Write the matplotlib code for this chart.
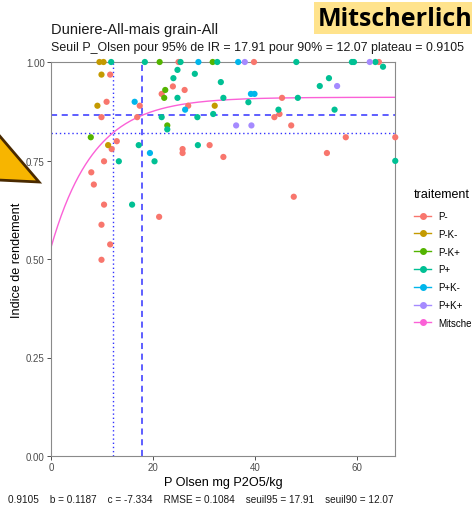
import numpy as np
import matplotlib
matplotlib.use("Agg")
import matplotlib.pyplot as plt
from matplotlib.lines import Line2D
from matplotlib.patches import Polygon, Rectangle

plt.rcParams["font.family"] = ["Liberation Sans", "DejaVu Sans"]

# ── Data ───────────────────────────────────────────────────
x_pm  = [11.6, 10.9, 17.4, 9.9, 16.9, 12.9, 11.9, 10.4, 7.9, 8.4, 10.4, 21.2, 9.9, 11.6, 9.9,
         25.0, 39.8, 23.9, 26.2, 21.7, 26.9, 44.8, 43.8, 31.1, 25.8, 25.8, 33.8,
         64.3, 45.3, 47.1, 57.8, 67.5, 54.1, 47.6]
y_pm  = [0.968, 0.899, 0.889, 0.860, 0.860, 0.799, 0.779, 0.748, 0.720, 0.689, 0.638, 0.607, 0.587, 0.537, 0.498,
         1.0, 1.0, 0.938, 0.929, 0.919, 0.889, 0.868, 0.860, 0.789, 0.779, 0.769, 0.759,
         1.0, 0.909, 0.839, 0.809, 0.809, 0.769, 0.658]
x_pkm = [9.5, 10.3, 9.9, 9.1, 11.2, 32.1]
y_pkm = [1.0, 1.0, 0.968, 0.889, 0.789, 0.889]
x_pkp = [21.3, 7.8, 22.4, 22.2, 22.8, 31.7]
y_pkp = [1.0, 0.809, 0.929, 0.909, 0.839, 1.0]
x_pp  = [11.8, 18.4, 21.7, 17.2, 13.3, 20.3, 15.9, 25.4, 32.6, 24.8, 24.0, 28.2, 24.8, 33.3, 33.8,
         38.7, 44.6, 31.8, 28.7, 22.8, 28.8, 48.1, 59.0, 59.4, 63.6, 65.1, 54.5, 52.7, 48.4, 55.6, 67.5]
y_pp  = [1.0, 1.0, 0.860, 0.789, 0.748, 0.748, 0.638, 1.0, 1.0, 0.980, 0.959, 0.970, 0.909, 0.949, 0.909,
         0.898, 0.879, 0.868, 0.860, 0.829, 0.789, 1.0, 1.0, 1.0, 1.0, 0.988, 0.959, 0.939, 0.909, 0.879, 0.749]
x_ppkm = [16.4, 19.4, 28.9, 36.7, 39.2, 39.9, 26.3]
y_ppkm = [0.899, 0.769, 1.0, 1.0, 0.919, 0.919, 0.879]
x_ppkp = [38.0, 36.3, 39.3, 62.5, 56.1]
y_ppkp = [1.0, 0.839, 0.839, 1.0, 0.939]

treatments = ["P-", "P-K-", "P-K+", "P+", "P+K-", "P+K+"]
colors = ["#F8766D", "#C49A00", "#53B400", "#00C094", "#00B6EB", "#A58AFF"]
CURVE_COLOR = "#FB61D7"

# Mitscherlich fit parameters (shown on the chart)
a_fit, b_fit, c_fit = 0.9105, 0.1187, -7.334
seuil95, seuil90 = 17.91, 12.07

# ── Figure ─────────────────────────────────────────────────
W, H = 472, 510
fig = plt.figure(figsize=(W / 100, H / 100), dpi=100)
def fx(px): return px / W
def fy(py): return 1 - py / H

ax = fig.add_axes([fx(51), fy(457), fx(395) - fx(51), fy(63) - fy(457)])
ax.set_xlim(0, 67.45); ax.set_ylim(0, 1)

xs = np.linspace(0, 67.45, 300)
ax.plot(xs, a_fit * (1 - np.exp(-b_fit * (xs - c_fit))), color=CURVE_COLOR, lw=1.0, zorder=2)

blue = "#3333FF"
ax.axvline(seuil95, color=blue, ls=(0, (4, 3)), lw=1.1, zorder=1)
ax.axhline(0.95 * a_fit, color=blue, ls=(0, (4, 3)), lw=1.1, zorder=1)
ax.axvline(seuil90, color=blue, ls=(0, (1, 2)), lw=1.0, zorder=1)
ax.axhline(0.90 * a_fit, color=blue, ls=(0, (1, 2)), lw=1.0, zorder=1)

series = [(x_pm, y_pm), (x_pkm, y_pkm), (x_pkp, y_pkp), (x_pp, y_pp), (x_ppkm, y_ppkm), (x_ppkp, y_ppkp)]
for (xv, yv), col in zip(series, colors):
    ax.scatter(xv, yv, s=20, color=col, edgecolors="none", zorder=3, clip_on=False)

ax.set_xticks([0, 20, 40, 60])
ax.set_yticks([0, 0.25, 0.5, 0.75, 1.0])
ax.set_yticklabels(["0.00", "0.25", "0.50", "0.75", "1.00"])
ax.tick_params(labelsize=7, colors="#333333", labelcolor="#4D4D4D", length=3, width=0.6, pad=1.5)
for s in ax.spines.values():
    s.set_color("#8A8A8A"); s.set_linewidth(0.8)
ax.set_xlabel("P Olsen mg P2O5/kg", fontsize=9.1, labelpad=3)
ax.set_ylabel("Indice de rendement", fontsize=9.1, labelpad=2)

# ── Titles ─────────────────────────────────────────────────
fig.text(fx(51), fy(30), "Duniere-All-mais grain-All", fontsize=10.5, va="center", ha="left", color="#1A1A1A")
fig.text(fx(51), fy(48), "Seuil P_Olsen pour 95% de IR = 17.91 pour 90% = 12.07 plateau = 0.9105",
         fontsize=8.9, va="center", ha="left", color="#1A1A1A")
fig.text(fx(8), fy(500), "0.9105    b = 0.1187    c = -7.334    RMSE = 0.1084    seuil95 = 17.91    seuil90 = 12.07",
         fontsize=7.2, va="center", ha="left", color="#1A1A1A")

# ── Legend ─────────────────────────────────────────────────
handles = [Line2D([], [], color=c, marker="o", ms=4, lw=1.0) for c in colors]
handles.append(Line2D([], [], color=CURVE_COLOR, marker="o", ms=4, lw=1.0))
labels = treatments + ["Mitscherlich"]
leg = fig.legend(handles, labels, title="traitement", loc="upper left",
                 bbox_to_anchor=(fx(411), fy(186)), frameon=False, fontsize=7.0,
                 title_fontsize=9.0, handlelength=1.8, handletextpad=0.7, labelspacing=0.8,
                 borderaxespad=0, borderpad=0.3)
leg._legend_box.align = "left"
leg._legend_box.sep = 8

# ── Annotations (label box + arrow) ────────────────────────
fig.patches.append(Rectangle((fx(314), fy(35)), fx(472) - fx(314), fy(3) - fy(35),
                             transform=fig.transFigure, facecolor="#FFE38C", edgecolor="none", zorder=0))
fig.text(fx(318), fy(19), "Mitscherlich", fontsize=18, fontweight="bold", family="Open Sans",
         va="center", ha="left", color="black")
fig.patches.append(Polygon([(fx(-2), fy(135)), (fx(39), fy(183)), (fx(-2), fy(181))], closed=True,
                           transform=fig.transFigure, facecolor="#F7B500", edgecolor="#4A2A00", lw=2))

fig.savefig("out.png", dpi=100)
